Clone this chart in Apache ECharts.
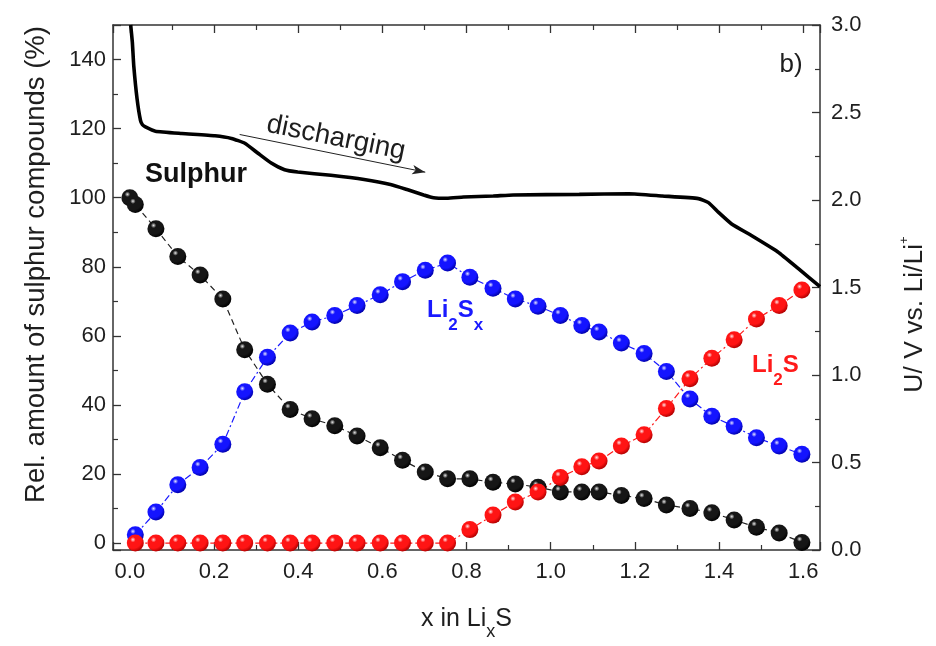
<!DOCTYPE html>
<html>
<head>
<meta charset="utf-8">
<script src="https://cdn.jsdelivr.net/npm/echarts@6/dist/echarts.min.js"></script>
<style>
  html, body { margin: 0; padding: 0; background: #ffffff; }
  #chart { width: 936px; height: 646px; }
</style>
</head>
<body>
<div id="chart"></div>
<script>
// x in LixS at which the sulphur species were quantified
const xValues = [0.000, 0.013, 0.062, 0.114, 0.167, 0.221, 0.273, 0.327, 0.381, 0.433,
                 0.487, 0.540, 0.595, 0.648, 0.702, 0.755, 0.808, 0.863, 0.916, 0.970,
                 1.023, 1.074, 1.115, 1.168, 1.222, 1.275, 1.331, 1.383, 1.436, 1.489,
                 1.543, 1.597];

// relative amounts (%) of each sulphur species
const sulphur = [100, 98, 91, 83, 77.6, 70.7, 56, 46, 38.7, 36,
                 34, 31, 27.6, 24, 20.6, 18.6, 18.6, 17.6, 17.1, 16.2,
                 14.8, 14.8, 14.8, 13.8, 12.9, 11, 10, 8.8, 6.7, 4.6,
                 2.9, 0.2];
const polysulfide = [null, 2.4, 9.0, 16.9, 21.9, 28.6, 43.8, 53.8, 60.8, 64.0,
                     65.9, 68.8, 71.9, 75.7, 79.0, 81.1, 77.0, 73.8, 70.7, 68.6,
                     65.9, 63.0, 61.1, 57.9, 54.9, 49.7, 41.7, 36.7, 33.8, 30.5,
                     28.1, 25.7];
const lithiumSulfide = [null, 0, 0, 0, 0, 0, 0, 0, 0, 0,
                        0, 0, 0, 0, 0, 0, 3.9, 8.1, 11.9, 14.8,
                        19.0, 22.1, 23.8, 28.1, 31.4, 39.0, 47.6, 53.5, 58.9, 64.9,
                        68.8, 73.3];

// discharge potential profile (V vs. Li/Li+)
const voltageX = [0.002, 0.006, 0.0094, 0.0172, 0.0253, 0.030, 0.037, 0.0607, 0.1235, 0.2024,
                  0.2416, 0.2732, 0.3046, 0.336, 0.3677, 0.399, 0.4777, 0.5566, 0.6194, 0.6588,
                  0.6982, 0.7218, 0.7532, 0.7927, 0.8635, 0.9108, 1.068, 1.186, 1.265, 1.351,
                  1.375, 1.399, 1.430, 1.477, 1.540, 1.588, 1.640];
const voltageU = [3.0, 2.90, 2.765, 2.578, 2.455, 2.43, 2.418, 2.393, 2.380, 2.367,
                  2.352, 2.324, 2.267, 2.211, 2.173, 2.160, 2.141, 2.117, 2.089, 2.060,
                  2.029, 2.013, 2.010, 2.017, 2.023, 2.029, 2.032, 2.036, 2.023, 2.008,
                  1.985, 1.929, 1.863, 1.797, 1.703, 1.609, 1.505];

// arrow marking the discharge direction (x, %)
const arrowFrom = [0.261, 118.3];
const arrowTo = [0.702, 107.4];

const FONT = '"Liberation Sans", Arial, Helvetica, sans-serif';
const AXIS_COLOR = '#333333';
const TEXT_COLOR = '#1e1e1e';

function pairs(xs, ys) {
  return xs.map((x, i) => [x, ys[i]]);
}

function sphere(light, base, dark) {
  return new echarts.graphic.RadialGradient(0.36, 0.3, 0.72, [
    { offset: 0, color: light },
    { offset: 0.22, color: base },
    { offset: 0.7, color: base },
    { offset: 1, color: dark }
  ]);
}

function markerSeries(name, ys, fill, lineColor, dash) {
  return {
    name: name,
    type: 'line',
    xAxisIndex: 0,
    yAxisIndex: 0,
    data: pairs(xValues, ys),
    symbol: 'circle',
    symbolSize: 17,
    showSymbol: true,
    connectNulls: false,
    itemStyle: { color: fill, borderWidth: 0 },
    lineStyle: { color: lineColor, width: 1.2, type: dash },
    emphasis: { disabled: true },
    z: 4
  };
}

const chart = echarts.init(document.getElementById('chart'), null, { renderer: 'canvas' });

const xAxisCommon = {
  type: 'value',
  min: -0.04,
  max: 1.64,
  splitNumber: 8,
  axisLine: { show: true, onZero: false, lineStyle: { color: AXIS_COLOR, width: 1.5 } },
  axisTick: { show: true, inside: true, length: 8, lineStyle: { color: AXIS_COLOR, width: 1.3 } },
  minorTick: { show: true, splitNumber: 2, length: 5, lineStyle: { color: AXIS_COLOR, width: 1.2 } },
  splitLine: { show: false }
};

chart.setOption({
  animation: false,
  backgroundColor: '#ffffff',
  grid: { left: 113, right: 113, top: 25, bottom: 89, containLabel: false },
  xAxis: [
    Object.assign({}, xAxisCommon, {
      position: 'bottom',
      name: '{a|x in Li}{s|x}{a|S}',
      nameLocation: 'middle',
      nameGap: 57,
      nameTextStyle: {
        rich: {
          a: { fontFamily: FONT, fontSize: 25, color: TEXT_COLOR, verticalAlign: 'top' },
          s: { fontFamily: FONT, fontSize: 18, color: TEXT_COLOR, verticalAlign: 'top', padding: [16, 0, 0, 0] }
        }
      },
      axisLabel: {
        show: true, margin: 11, fontFamily: FONT, fontSize: 22, color: TEXT_COLOR,
        formatter: v => v.toFixed(1)
      }
    }),
    Object.assign({}, xAxisCommon, {
      position: 'top',
      axisLabel: { show: false }
    })
  ],
  yAxis: [
    {
      type: 'value',
      position: 'left',
      min: -2,
      max: 150,
      splitNumber: 8,
      name: 'Rel. amount of sulphur compounds (%)',
      nameLocation: 'middle',
      nameGap: 63,
      nameTextStyle: { fontFamily: FONT, fontSize: 27.5, color: TEXT_COLOR, padding: [0, 0, 0, 46] },
      axisLine: { show: true, onZero: false, lineStyle: { color: AXIS_COLOR, width: 1.5 } },
      axisTick: { show: true, inside: true, length: 8, lineStyle: { color: AXIS_COLOR, width: 1.3 } },
      minorTick: { show: true, splitNumber: 2, length: 5, lineStyle: { color: AXIS_COLOR, width: 1.2 } },
      splitLine: { show: false },
      axisLabel: { margin: 7, fontFamily: FONT, fontSize: 22, color: TEXT_COLOR, showMaxLabel: false }
    },
    {
      type: 'value',
      position: 'right',
      min: 0,
      max: 3,
      interval: 0.5,
      name: '{a|U/ V vs. Li/Li}{p|+}',
      nameLocation: 'middle',
      nameGap: 78,
      nameTextStyle: {
        padding: [0, 54, 0, 0],
        rich: {
          a: { fontFamily: FONT, fontSize: 26.5, color: TEXT_COLOR, verticalAlign: 'top', padding: [3, 0, 0, 0] },
          p: { fontFamily: FONT, fontSize: 13, color: TEXT_COLOR, verticalAlign: 'top' }
        }
      },
      axisLine: { show: true, onZero: false, lineStyle: { color: AXIS_COLOR, width: 1.5 } },
      axisTick: { show: true, inside: true, length: 8, lineStyle: { color: AXIS_COLOR, width: 1.3 } },
      minorTick: { show: true, splitNumber: 2, length: 5, lineStyle: { color: AXIS_COLOR, width: 1.2 } },
      splitLine: { show: false },
      axisLabel: {
        margin: 11, fontFamily: FONT, fontSize: 22, color: TEXT_COLOR,
        formatter: v => v.toFixed(1)
      }
    }
  ],
  series: [
    {
      name: 'U',
      type: 'line',
      xAxisIndex: 0,
      yAxisIndex: 1,
      data: pairs(voltageX, voltageU),
      showSymbol: false,
      smooth: 0.15,
      lineStyle: { color: '#000000', width: 3.6 },
      emphasis: { disabled: true },
      z: 3
    },
    Object.assign(markerSeries('Sulphur', sulphur, sphere('#e6e6e6', '#161616', '#000000'), '#222222', [6, 4]), {
      markLine: {
        silent: true,
        symbol: ['none', 'arrow'],
        symbolSize: [7, 13],
        label: { show: false },
        lineStyle: { color: '#222222', width: 1, type: 'solid' },
        data: [[{ coord: arrowFrom }, { coord: arrowTo }]]
      }
    }),
    markerSeries('Li2Sx', polysulfide, sphere('#e4e4ff', '#1414ff', '#0000a8'), '#1a1aff', [7, 3, 2, 3]),
    markerSeries('Li2S', lithiumSulfide, sphere('#ffe4e4', '#ff1414', '#b00000'), '#ff1a1a', [7, 3, 2, 3])
  ],
  graphic: [
    {
      type: 'text', x: 196, y: 175, silent: true,
      style: { text: 'Sulphur', font: 'bold 27px ' + FONT, fill: '#111111', align: 'center', verticalAlign: 'middle' }
    },
    {
      type: 'text', x: 336, y: 138, rotation: -0.2, silent: true,
      style: { text: 'discharging', font: '27.5px ' + FONT, fill: TEXT_COLOR, align: 'center', verticalAlign: 'middle' }
    },
    {
      type: 'text', x: 791, y: 65, silent: true,
      style: { text: 'b)', font: '26px ' + FONT, fill: TEXT_COLOR, align: 'center', verticalAlign: 'middle' }
    },
    {
      type: 'text', x: 427, y: 298, silent: true,
      style: {
        text: '{m|Li}{s|2}{m|S}{s|x}', align: 'left', verticalAlign: 'top',
        rich: {
          m: { font: 'bold 24px ' + FONT, fill: '#1a1aff', verticalAlign: 'top' },
          s: { font: 'bold 17px ' + FONT, fill: '#1a1aff', verticalAlign: 'top', padding: [19, 0, 0, 0] }
        }
      }
    },
    {
      type: 'text', x: 752, y: 353, silent: true,
      style: {
        text: '{m|Li}{s|2}{m|S}', align: 'left', verticalAlign: 'top',
        rich: {
          m: { font: 'bold 24px ' + FONT, fill: '#ff1a1a', verticalAlign: 'top' },
          s: { font: 'bold 17px ' + FONT, fill: '#ff1a1a', verticalAlign: 'top', padding: [19, 0, 0, 0] }
        }
      }
    }
  ]
});
</script>
</body>
</html>
